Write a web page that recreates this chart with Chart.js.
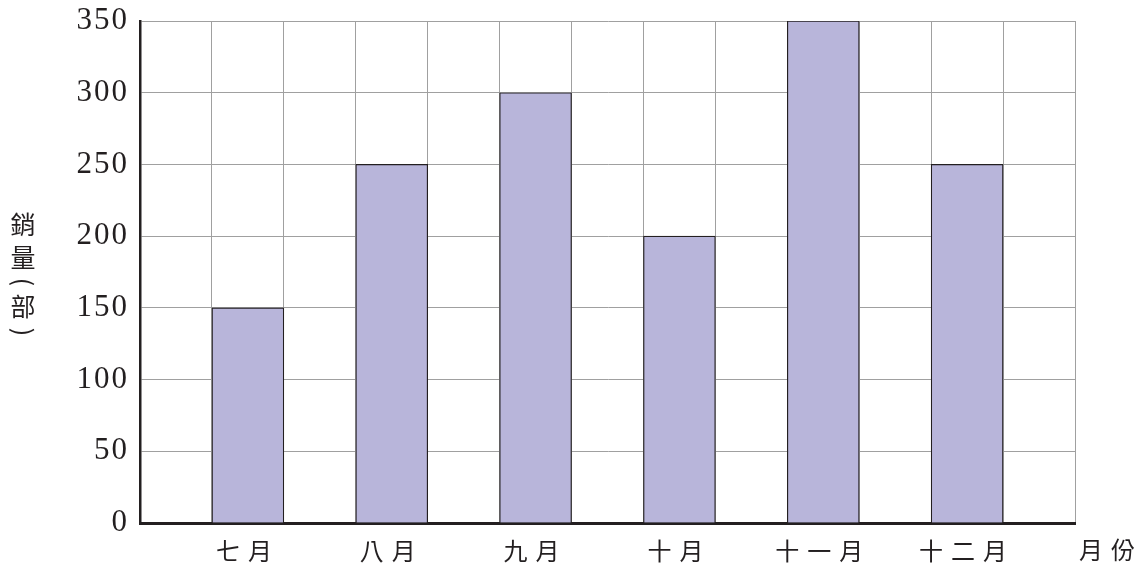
<!DOCTYPE html>
<html>
<head>
<meta charset="utf-8">
<script src="https://cdn.jsdelivr.net/npm/chart.js@4"></script>
<style>
  html, body { margin: 0; padding: 0; background: #fff; }
  #wrap { width: 1145px; height: 565px; }
</style>
</head>
<body>
<div id="wrap"><canvas id="salesChart" width="1145" height="565"></canvas></div>
<script>
// 月份與銷量
const months = ['七月', '八月', '九月', '十月', '十一月', '十二月'];
const sales = [150, 250, 300, 200, 350, 250];
const yTicks = [0, 50, 100, 150, 200, 250, 300, 350];
const yTitle = '銷量(部)';
const xTitle = '月份';

// each month sits in every second column of the grid
const slots = [''];
const slotValues = [null];
months.forEach((m, i) => {
    slots.push(m, '');
    slotValues.push(sales[i], null);
});

const serif = "'Liberation Serif', 'DejaVu Serif', serif";
const cjk = "'Noto Sans CJK TC', 'Noto Sans CJK SC', sans-serif";

// wider letter spacing on the tick labels, like the printed chart
const spacedTicks = {
    id: 'spacedTicks',
    afterLayout(chart) {
        const spacing = { x: '8px', y: '2px' };
        Object.keys(spacing).forEach(id => {
            const scale = chart.scales[id];
            if (scale._spaced) return;
            const orig = scale.drawLabels.bind(scale);
            scale.drawLabels = function (area) {
                chart.ctx.save();
                chart.ctx.letterSpacing = spacing[id];
                orig(area);
                chart.ctx.restore();
            };
            scale._spaced = true;
        });
    }
};

// extra texts: vertical y title and the x title at the axis end
const axisTexts = {
    id: 'axisTexts',
    afterDraw(chart) {
        const ctx = chart.ctx;
        const area = chart.chartArea;
        ctx.save();
        ctx.fillStyle = '#231f20';
        ctx.font = '25px ' + cjk;
        ctx.textAlign = 'center';
        ctx.textBaseline = 'middle';
        // y title, one character per line
        const steps = [0, 33, 25, 24, 26];
        let y = 224;
        [...yTitle].forEach((ch, i) => {
            y += steps[i];
            if (ch === '(' || ch === ')') {
                ctx.save();
                ctx.translate(23, y);
                ctx.rotate(Math.PI / 2);
                ctx.fillText(ch, 0, 0);
                ctx.restore();
            } else {
                ctx.fillText(ch, 23, y);
            }
        });
        ctx.font = '24px ' + cjk;
        ctx.letterSpacing = '8px';
        ctx.fillText(xTitle, area.right + 36, area.bottom + 27);
        ctx.restore();
    }
};

const ctx = document.getElementById('salesChart').getContext('2d');
new Chart(ctx, {
    type: 'bar',
    data: {
        labels: slots,
        datasets: [{
            data: slotValues,
            backgroundColor: '#b8b5da',
            borderColor: '#231f20',
            borderWidth: 1.2,
            barPercentage: 1,
            categoryPercentage: 1
        }]
    },
    options: {
        responsive: false,
        animation: false,
        layout: { padding: { top: 21, right: 70, left: 0, bottom: 0 } },
        plugins: {
            legend: { display: false },
            tooltip: { enabled: false }
        },
        scales: {
            x: {
                grid: { color: '#a0a0a0', lineWidth: 1, drawTicks: false },
                border: { color: '#231f20', width: 3 },
                ticks: {
                    color: '#231f20',
                    font: { family: cjk, size: 24 },
                    padding: 13,
                    maxRotation: 0,
                    autoSkip: false
                },
                afterFit(scale) { scale.height = 42; }
            },
            y: {
                min: 0,
                max: 350,
                afterBuildTicks(scale) { scale.ticks = yTicks.map(v => ({ value: v })); },
                grid: { color: '#a0a0a0', lineWidth: 1, drawTicks: false },
                border: { color: '#231f20', width: 2.5 },
                ticks: {
                    color: '#231f20',
                    font: { family: serif, size: 31 },
                    padding: 11
                },
                afterFit(scale) {
                    scale.width = 140;
                    scale.paddingTop = 0;
                    scale.paddingBottom = 0;
                }
            }
        }
    },
    plugins: [spacedTicks, axisTexts]
});
</script>
</body>
</html>
